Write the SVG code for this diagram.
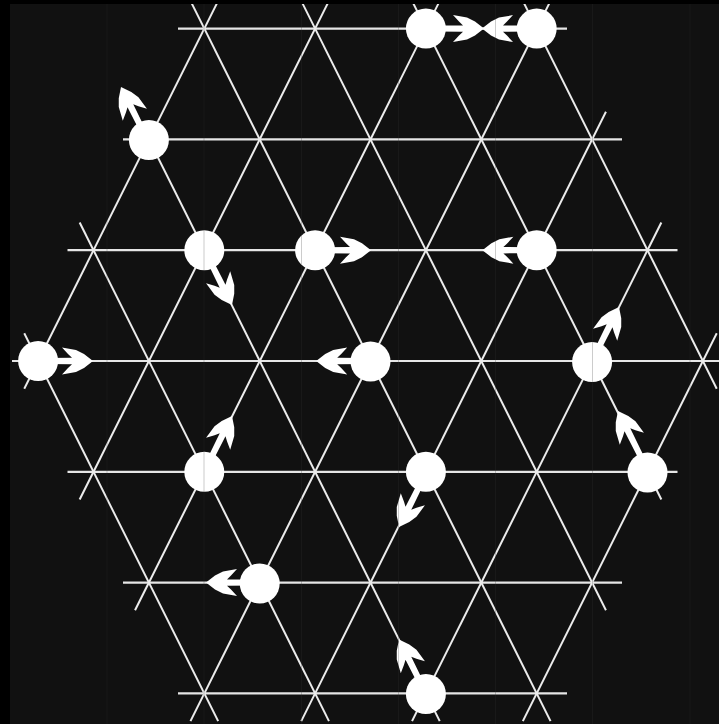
<svg xmlns="http://www.w3.org/2000/svg" xmlns:xlink="http://www.w3.org/1999/xlink" width="719" height="724" viewBox="0 0 719 724">
<style>
.ln{stroke:#e6e6e6;stroke-width:2.2;fill:none}
.dg{stroke:#ececec;stroke-width:2;fill:none}
.pt{fill:#ffffff}
.art{stroke:#333;stroke-opacity:0.25;stroke-width:1}
</style>
<defs>
<path id="arrow" fill="#ffffff" d="M0,0 L-9,-7 L-17,-11 L-31,-13.5 L-25,-7 L-21,-3.2 L-50,-3 L-50,3 L-21,3.2 L-25,7 L-31,13.5 L-17,11 L-9,7 Z"/>
</defs>
<rect width="719" height="724" fill="#111111"/>
<g id="lattice">
<g id="horizontal">
<line class="ln" x1="178" y1="28.6" x2="567" y2="28.6"/>
<line class="ln" x1="123" y1="139.4" x2="622" y2="139.4"/>
<line class="ln" x1="67.5" y1="250.2" x2="677.5" y2="250.2"/>
<line class="ln" x1="12" y1="361" x2="733" y2="361"/>
<line class="ln" x1="67.5" y1="471.8" x2="677.5" y2="471.8"/>
<line class="ln" x1="123" y1="582.6" x2="622" y2="582.6"/>
<line class="ln" x1="178" y1="693.4" x2="567" y2="693.4"/>
</g>
<g id="diag-down-right">
<line class="dg" x1="24.25" y1="333.3" x2="218.15" y2="721.1"/>
<line class="dg" x1="79.65" y1="222.5" x2="328.95" y2="721.1"/>
<line class="dg" x1="135.05" y1="111.7" x2="439.75" y2="721.1"/>
<line class="dg" x1="190.45" y1="0.9" x2="550.55" y2="721.1"/>
<line class="dg" x1="301.25" y1="0.9" x2="605.95" y2="610.3"/>
<line class="dg" x1="412.05" y1="0.9" x2="661.35" y2="499.5"/>
<line class="dg" x1="522.85" y1="0.9" x2="716.75" y2="388.7"/>
</g>
<g id="diag-down-left">
<line class="dg" x1="218.15" y1="0.9" x2="24.25" y2="388.7"/>
<line class="dg" x1="328.95" y1="0.9" x2="79.65" y2="499.5"/>
<line class="dg" x1="439.75" y1="0.9" x2="135.05" y2="610.3"/>
<line class="dg" x1="550.55" y1="0.9" x2="190.45" y2="721.1"/>
<line class="dg" x1="605.95" y1="111.7" x2="301.25" y2="721.1"/>
<line class="dg" x1="661.35" y1="222.5" x2="412.05" y2="721.1"/>
<line class="dg" x1="716.75" y1="333.3" x2="522.85" y2="721.1"/>
</g>
</g>
<g id="particles">
<g id="p1"><use xlink:href="#arrow" href="#arrow" transform="translate(484,28.6)"/><circle class="pt" cx="425.9" cy="28.6" r="20"/></g>
<g id="p2"><use xlink:href="#arrow" href="#arrow" transform="translate(482,28.6) rotate(180)"/><circle class="pt" cx="536.7" cy="28.6" r="20"/></g>
<g id="p3"><use xlink:href="#arrow" href="#arrow" transform="translate(121,87) rotate(-116.57)"/><circle class="pt" cx="148.9" cy="140" r="20"/></g>
<g id="p4"><use xlink:href="#arrow" href="#arrow" transform="translate(232,305) rotate(63.43)"/><circle class="pt" cx="204.3" cy="250.2" r="20"/></g>
<g id="p5"><use xlink:href="#arrow" href="#arrow" transform="translate(371,250.2)"/><circle class="pt" cx="315.1" cy="250.2" r="20"/></g>
<g id="p6"><use xlink:href="#arrow" href="#arrow" transform="translate(482.4,250.2) rotate(180)"/><circle class="pt" cx="536.7" cy="250.2" r="20"/></g>
<g id="p7"><use xlink:href="#arrow" href="#arrow" transform="translate(93,361)"/><circle class="pt" cx="38.1" cy="361" r="20"/></g>
<g id="p8"><use xlink:href="#arrow" href="#arrow" transform="translate(316.2,361) rotate(180)"/><circle class="pt" cx="370.5" cy="361.5" r="20"/></g>
<g id="p9"><use xlink:href="#arrow" href="#arrow" transform="translate(619,307) rotate(-63.43)"/><circle class="pt" cx="592.1" cy="362" r="20"/></g>
<g id="p10"><use xlink:href="#arrow" href="#arrow" transform="translate(232,416) rotate(-63.43)"/><circle class="pt" cx="204.3" cy="471.8" r="20"/></g>
<g id="p11"><use xlink:href="#arrow" href="#arrow" transform="translate(399,527) rotate(116.57)"/><circle class="pt" cx="425.9" cy="471.8" r="20"/></g>
<g id="p12"><use xlink:href="#arrow" href="#arrow" transform="translate(618,411) rotate(-116.57)"/><circle class="pt" cx="647.5" cy="472.5" r="20"/></g>
<g id="p13"><use xlink:href="#arrow" href="#arrow" transform="translate(206,582.6) rotate(180)"/><circle class="pt" cx="259.7" cy="583.5" r="20"/></g>
<g id="p14"><use xlink:href="#arrow" href="#arrow" transform="translate(399,639.5) rotate(-116.57)"/><circle class="pt" cx="425.9" cy="694" r="20"/></g>
</g>
<g id="artifacts">
<line class="art" x1="107" y1="4" x2="107" y2="724"/>
<line class="art" x1="204" y1="4" x2="204" y2="724"/>
<line class="art" x1="301.5" y1="4" x2="301.5" y2="724"/>
<line class="art" x1="398.5" y1="4" x2="398.5" y2="724"/>
<line class="art" x1="495.5" y1="4" x2="495.5" y2="724"/>
<line class="art" x1="592.5" y1="4" x2="592.5" y2="724"/>
<line class="art" x1="690" y1="4" x2="690" y2="724"/>
</g>
<rect x="0" y="0" width="10" height="724" fill="#000"/>
<rect x="0" y="0" width="719" height="4" fill="#000"/>
</svg>
